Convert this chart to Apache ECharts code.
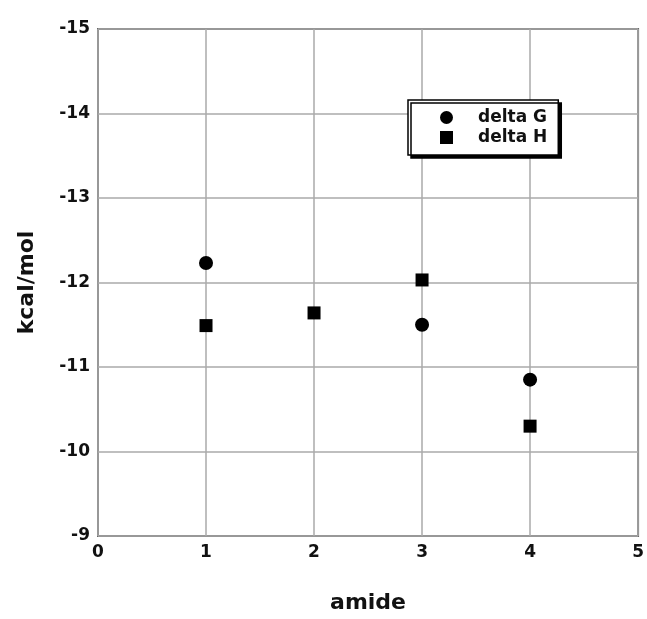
<!DOCTYPE html>
<html>
<head>
<meta charset="utf-8">
<script src="https://cdn.jsdelivr.net/npm/echarts@6/dist/echarts.min.js"></script>
<style>
  html, body { margin: 0; padding: 0; background: #fff; }
  #main { width: 647px; height: 619px; }
</style>
</head>
<body>
<div id="main"></div>
<script>
// amide index vs binding energy (kcal/mol)
let amideG = [1, 3, 4];
let deltaG = [-12.23, -11.50, -10.85];
let amideH = [1, 2, 3, 4];
let deltaH = [-11.49, -11.64, -12.03, -10.30];

let xTicks = [0, 1, 2, 3, 4, 5];
let yTicks = [-15, -14, -13, -12, -11, -10, -9];

let font = 'DejaVu Sans';

function pairs(xs, ys) {
    let out = [];
    for (let i = 0; i < xs.length; i++) {
        out.push([xs[i], ys[i]]);
    }
    return out;
}

let myChart = echarts.init(document.getElementById('main'));

let option = {
    animation: false,
    backgroundColor: '#fff',
    grid: {
        left: 98,
        right: 7,
        top: 29,
        bottom: 76,
        show: true,
        borderColor: '#666',
        borderWidth: 2
    },
    legend: {
        orient: 'vertical',
        left: 408,
        top: 100,
        padding: [9, 11, 9, 32],
        itemWidth: 13,
        itemHeight: 13,
        itemGap: 3,
        backgroundColor: '#fff',
        borderColor: '#000',
        borderWidth: 1.5,
        shadowColor: '#000',
        shadowBlur: 0,
        shadowOffsetX: 3,
        shadowOffsetY: 3,
        textStyle: {
            fontFamily: font,
            fontWeight: 'bold',
            fontSize: 17,
            color: '#111',
            padding: [0, 0, 0, 20]
        },
        data: [
            { name: 'delta G', icon: 'circle' },
            { name: 'delta H', icon: 'rect' }
        ]
    },
    xAxis: {
        type: 'value',
        min: xTicks[0],
        max: xTicks[xTicks.length - 1],
        interval: 1,
        name: 'amide',
        nameLocation: 'middle',
        nameGap: 56,
        nameTextStyle: { fontFamily: font, fontWeight: 'bold', fontSize: 22, color: '#111' },
        axisLine: { show: false },
        axisTick: { show: false },
        axisLabel: { fontFamily: font, fontWeight: 'bold', fontSize: 17, color: '#111', margin: 8 },
        splitLine: { show: true, lineStyle: { color: '#aaa', width: 1.5 } }
    },
    yAxis: {
        type: 'value',
        inverse: true,
        min: yTicks[0],
        max: yTicks[yTicks.length - 1],
        interval: 1,
        name: 'kcal/mol',
        nameLocation: 'middle',
        nameGap: 60,
        nameTextStyle: { fontFamily: font, fontWeight: 'bold', fontSize: 22, color: '#111' },
        axisLine: { show: false },
        axisTick: { show: false },
        axisLabel: { fontFamily: font, fontWeight: 'bold', fontSize: 17, color: '#111', margin: 8 },
        splitLine: { show: true, lineStyle: { color: '#aaa', width: 1.5 } }
    },
    series: [
        {
            name: 'delta G',
            type: 'scatter',
            symbol: 'circle',
            symbolSize: 14,
            itemStyle: { color: '#000', opacity: 1 },
            data: pairs(amideG, deltaG)
        },
        {
            name: 'delta H',
            type: 'scatter',
            symbol: 'rect',
            symbolSize: 13,
            itemStyle: { color: '#000', opacity: 1 },
            data: pairs(amideH, deltaH)
        }
    ]
};

myChart.setOption(option);
</script>
</body>
</html>
